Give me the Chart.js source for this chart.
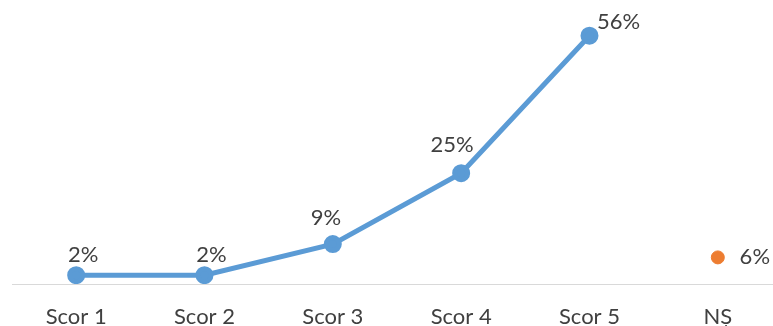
<!DOCTYPE html>
<html>
<head>
<meta charset="utf-8">
<script src="https://cdn.jsdelivr.net/npm/chart.js@4/dist/chart.umd.min.js"></script>
<style>
    html, body { margin: 0; padding: 0; background: #fff; }
    #wrap { width: 773px; height: 326px; }
</style>
</head>
<body>
<div id="wrap"><canvas id="scoreChart"></canvas></div>
<script>
const categories = ["Scor 1", "Scor 2", "Scor 3", "Scor 4", "Scor 5", "NȘ"];
const scoreValues = [2, 2, 9, 25, 56];   // Scor 1..5
const nsValue = 6;                       // NȘ, shown as a single point
const labelFont = '22px Lato';
const textColor = '#404040';

// draws the "x%" labels next to each point (offsets are from the point centre)
const pointLabels = {
    id: 'pointLabels',
    afterDatasetsDraw(chart) {
        const ctx = chart.ctx;
        ctx.save();
        ctx.font = labelFont;
        ctx.fillStyle = textColor;
        ctx.textAlign = 'center';
        ctx.textBaseline = 'middle';
        chart.data.datasets.forEach((ds, di) => {
            const meta = chart.getDatasetMeta(di);
            meta.data.forEach((pt, i) => {
                const off = ds.labelOffset[i];
                ctx.fillText(ds.data[i].y + '%', pt.x + off[0], pt.y + off[1]);
            });
        });
        ctx.restore();
    }
};

const ctx = document.getElementById('scoreChart').getContext('2d');
const scoreChart = new Chart(ctx, {
    type: 'line',
    data: {
        datasets: [{
            data: scoreValues.map((v, i) => ({ x: i, y: v })),
            borderColor: '#5b9bd5',
            backgroundColor: '#5b9bd5',
            borderWidth: 5,
            pointRadius: 6.5,
            pointHoverRadius: 6.5,
            tension: 0,
            labelOffset: [[7, -20], [7, -20], [-7, -26], [-9, -28], [29, -14]]
        }, {
            data: [{ x: categories.length - 1, y: nsValue }],
            borderColor: '#ed7d31',
            backgroundColor: '#ed7d31',
            showLine: false,
            pointRadius: 6.5,
            pointHoverRadius: 6.5,
            labelOffset: [[37, 0]]
        }]
    },
    options: {
        responsive: true,
        maintainAspectRatio: false,
        animation: false,
        layout: { autoPadding: false, padding: { top: 18, left: 12, right: 0, bottom: 0 } },
        plugins: {
            legend: { display: false },
            tooltip: { enabled: false }
        },
        scales: {
            x: {
                type: 'linear',
                min: -0.5,
                max: 5.43,
                afterBuildTicks: scale => {
                    scale.ticks = categories.map((c, i) => ({ value: i }));
                },
                afterFit: scale => {
                    scale.height = 42;
                    scale.paddingLeft = 0;
                    scale.paddingRight = 0;
                },
                grid: { display: false, drawTicks: false },
                border: { display: true, color: '#d9d9d9', width: 1 },
                ticks: {
                    autoSkip: false,
                    maxRotation: 0,
                    padding: 20,
                    color: textColor,
                    font: { family: 'Lato', size: 22 },
                    callback: value => categories[value]
                }
            },
            y: {
                display: false,
                min: 0,
                max: 60
            }
        }
    },
    plugins: [pointLabels]
});
</script>
</body>
</html>
